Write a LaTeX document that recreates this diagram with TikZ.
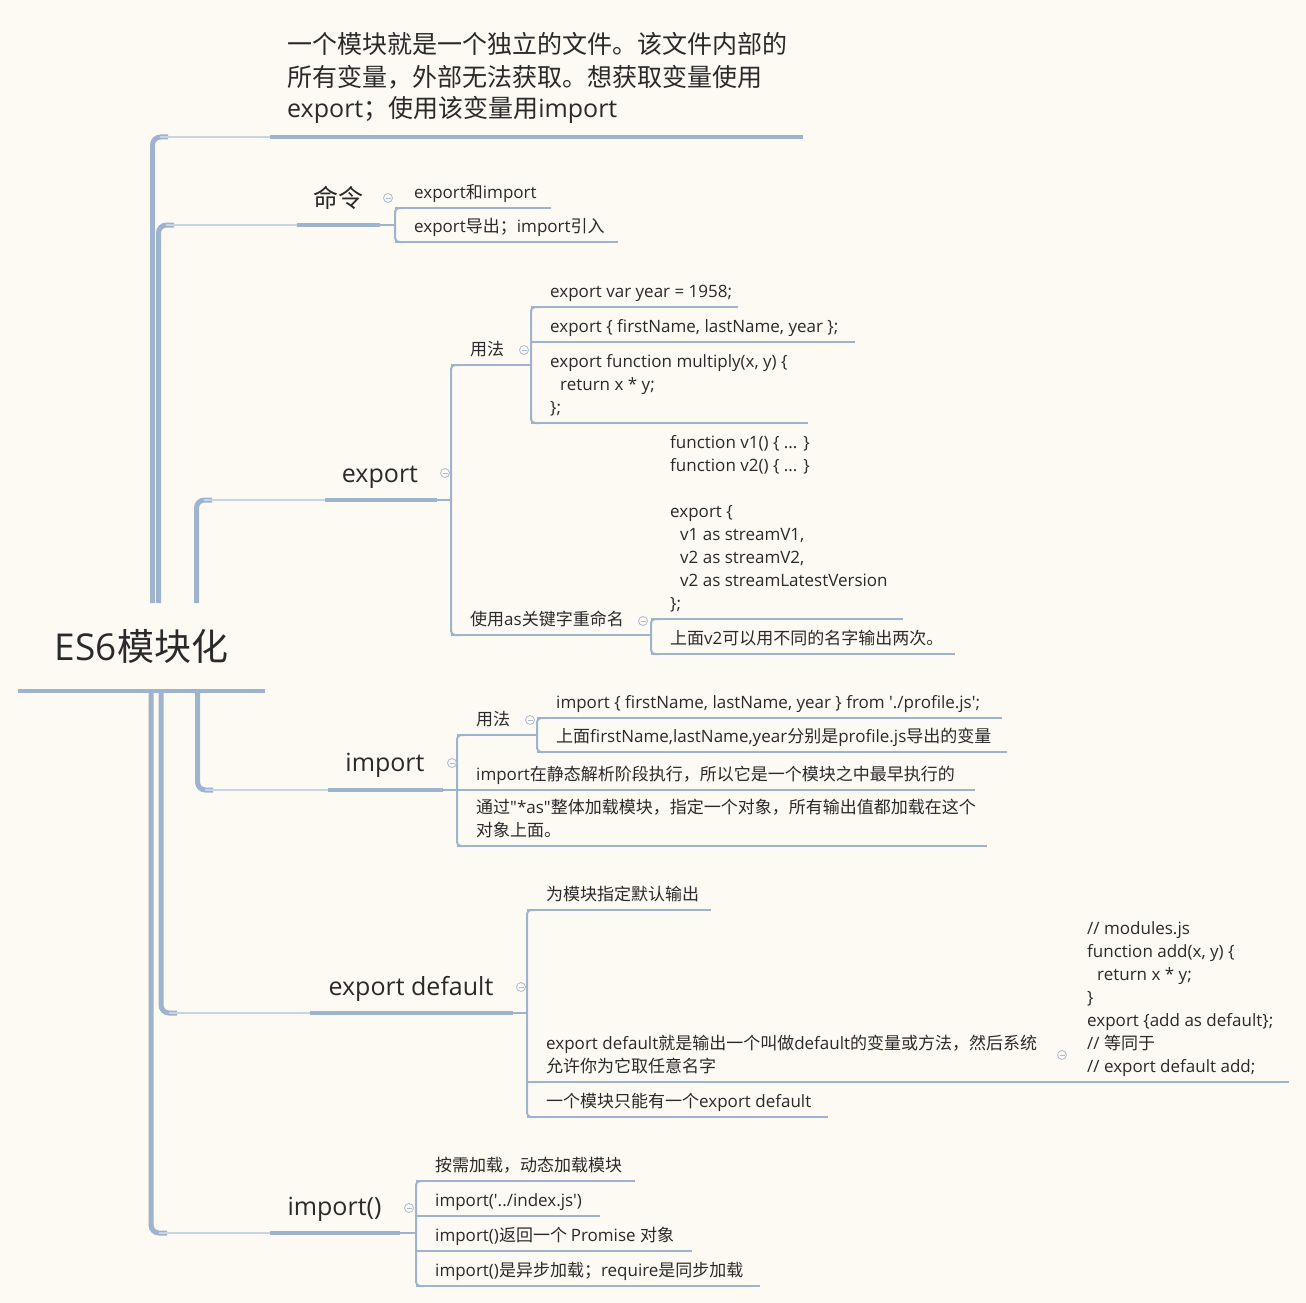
\documentclass[tikz,border=0pt]{standalone}
\usepackage{fontspec}
\setmainfont{Noto Sans CJK SC}
\newfontfamily\zhfont{Noto Sans CJK SC}
\newfontfamily\enfont{Open Sans}
\usetikzlibrary{calc}

%%% switch fonts between latin and chinese characters
\XeTeXinterchartokenstate=1
\newXeTeXintercharclass\enclass
\newXeTeXintercharclass\zhclass
\newcount\chr
\chr="21 \loop\XeTeXcharclass\chr=\enclass\advance\chr by 1 \ifnum\chr<"7F \repeat
\chr="3000 \loop\XeTeXcharclass\chr=\zhclass\advance\chr by 1 \ifnum\chr<"3040 \repeat
\chr="4E00 \loop\XeTeXcharclass\chr=\zhclass\advance\chr by 1 \ifnum\chr<"A000 \repeat
\chr="FF00 \loop\XeTeXcharclass\chr=\zhclass\advance\chr by 1 \ifnum\chr<"FFF0 \repeat
\XeTeXinterchartoks 0 \enclass = {\enfont}
\XeTeXinterchartoks 4095 \enclass = {\enfont}
\XeTeXinterchartoks \zhclass \enclass = {\enfont}
\XeTeXinterchartoks 0 \zhclass = {\zhfont}
\XeTeXinterchartoks 4095 \zhclass = {\zhfont}
\XeTeXinterchartoks \enclass \zhclass = {\zhfont}

\definecolor{paper}{HTML}{FDFAF3}
\definecolor{linec}{HTML}{9EB3CE}
\definecolor{twigc}{HTML}{C8D4E4}
\definecolor{ink}{HTML}{2A2A2A}
\definecolor{foldc}{HTML}{A9BBD6}

\tikzset{
  rootlabel/.style={font=\fontsize{37}{44}\selectfont, text=ink, inner sep=0pt, anchor=base},
  mainlabel/.style={font=\fontsize{25}{32}\selectfont, text=ink, inner sep=0pt, anchor=base},
  leaflabel/.style={font=\fontsize{17}{23}\selectfont, text=ink, inner sep=0pt, anchor=base west, align=left},
  barline/.style={draw=linec, line width=4pt},
  leafline/.style={draw=linec, line width=2pt},
  trunkline/.style={draw=linec, line width=5pt, rounded corners=8pt},
  twigline/.style={draw=twigc, line width=2.5pt},
  foldmark/.style={circle, draw=foldc, line width=0.8pt, minimum size=9pt, inner sep=0pt, fill=paper,
    path picture={\draw[foldc, line width=0.8pt] ([xshift=2pt]path picture bounding box.west) -- ([xshift=-2pt]path picture bounding box.east);}},
}

% name, x left, x right, y of underline, text (last line sits on the underline)
\newcommand\leafitem[5]{%
  \coordinate (#1-l) at (#2,#4);
  \coordinate (#1-r) at (#3,#4);
  \draw[leafline] (#1-l) -- (#1-r);
  \node[leaflabel] (#1) at ([xshift=19pt,yshift=10pt]#1-l) {#5};
}

\begin{document}
\begin{tikzpicture}[x=1pt,y=-1pt]
\fill[paper] (0,0) rectangle (1306,1303);
\useasboundingbox (0,0) rectangle (1306,1303);

%%%
% root and first level
%%%
\coordinate (introL) at (270,137); \coordinate (introR) at (803,137);
\coordinate (cmdL) at (297,225);   \coordinate (cmdR) at (380,225);
\coordinate (expL) at (325,500);   \coordinate (expR) at (437,500);
\coordinate (impL) at (328,790);   \coordinate (impR) at (443,790);
\coordinate (defL) at (310,1013);  \coordinate (defR) at (513,1013);
\coordinate (dynL) at (270,1233);  \coordinate (dynR) at (400,1233);

\draw[trunkline] (152.5,603) |- (168,137);
\draw[twigline] (160,137) -- (introL);
\draw[trunkline] (158.5,603) |- (174,225);
\draw[twigline] (166,225) -- (cmdL);
\draw[trunkline] (196.5,603) |- (212,500);
\draw[twigline] (204,500) -- (expL);
\draw[trunkline] (197.5,691) |- (213,790);
\draw[twigline] (205,790) -- (impL);
\draw[trunkline] (161,691) |- (177,1013);
\draw[twigline] (169,1013) -- (defL);
\draw[trunkline] (151,691) |- (167,1233);
\draw[twigline] (159,1233) -- (dynL);

\node[rootlabel] (root) at (141.5,660) {ES6模块化};
\draw[barline] (18,691) -- (265,691);

\node[mainlabel, anchor=base west, align=left] (intro) at (287,118)
  {一个模块就是一个独立的文件。该文件内部的\\所有变量，外部无法获取。想获取变量使用\\export；使用该变量用import};
\draw[barline] (introL) -- (introR);

\node[mainlabel] (cmd) at (338,207) {命令};
\draw[barline] (cmdL) -- (cmdR);
\node[mainlabel] (exp) at (380,482) {export};
\draw[barline] (expL) -- (expR);
\node[mainlabel] (imp) at (385,771) {import};
\draw[barline] (impL) -- (impR);
\node[mainlabel] (def) at (411,995) {export default};
\draw[barline] (defL) -- (defR);
\node[mainlabel] (dyn) at (334.5,1215) {import()};
\draw[barline] (dynL) -- (dynR);

%%%
% 命令
%%%
\leafitem{cmdA}{395}{551}{208}{export和import}
\leafitem{cmdB}{395}{618}{242}{export导出；import引入}
\draw[leafline] (cmdR) -- (cmdR -| cmdA-l);
\draw[leafline, rounded corners=4pt] ([xshift=8pt]cmdA-l) -- (cmdA-l) -- (cmdB-l) -- ([xshift=8pt]cmdB-l);

%%%
% export
%%%
\leafitem{usage}{451}{531}{365}{用法}
\leafitem{rename}{451}{651}{635}{使用as关键字重命名}
\draw[leafline] (expR) -- (expR -| usage-l);
\draw[leafline, rounded corners=4pt] ([xshift=8pt]usage-l) -- (usage-l) -- (rename-l) -- ([xshift=8pt]rename-l);

\leafitem{ev1}{531}{738}{307}{export var year = 1958;}
\leafitem{ev2}{531}{855}{342}{export \{ firstName, lastName, year \};}
\leafitem{ev3}{531}{808}{423}{export function multiply(x, y) \{\\\hspace*{10pt}return x * y;\\\};}
\draw[leafline, rounded corners=4pt] ([xshift=8pt]ev1-l) -- (ev1-l) -- (ev3-l) -- ([xshift=8pt]ev3-l);

\leafitem{rn1}{651}{903}{619}{function v1() \{ ... \}\\function v2() \{ ... \}\\[23pt]export \{\\\hspace*{10pt}v1 as streamV1,\\\hspace*{10pt}v2 as streamV2,\\\hspace*{10pt}v2 as streamLatestVersion\\\};}
\leafitem{rn2}{651}{955}{654}{上面v2可以用不同的名字输出两次。}
\draw[leafline, rounded corners=4pt] ([xshift=8pt]rn1-l) -- (rn1-l) -- (rn2-l) -- ([xshift=8pt]rn2-l);

%%%
% import
%%%
\leafitem{iusage}{457}{537}{735}{用法}
\leafitem{istatic}{457}{975}{790}{import在静态解析阶段执行，所以它是一个模块之中最早执行的}
\leafitem{istar}{457}{987}{846}{通过"*as"整体加载模块，指定一个对象，所有输出值都加载在这个\\对象上面。}
\draw[leafline] (impR) -- (impR -| iusage-l);
\draw[leafline, rounded corners=4pt] ([xshift=8pt]iusage-l) -- (iusage-l) -- (istar-l) -- ([xshift=8pt]istar-l);

\leafitem{iu1}{537}{1002}{718}{import \{ firstName, lastName, year \} from './profile.js';}
\leafitem{iu2}{537}{1007}{752}{上面firstName,lastName,year分别是profile.js导出的变量}
\draw[leafline, rounded corners=4pt] ([xshift=8pt]iu1-l) -- (iu1-l) -- (iu2-l) -- ([xshift=8pt]iu2-l);

%%%
% export default
%%%
\leafitem{dfa}{527}{711}{910}{为模块指定默认输出}
\leafitem{dfb}{527}{1050}{1082}{export default就是输出一个叫做default的变量或方法，然后系统\\允许你为它取任意名字}
\leafitem{dfc}{527}{828}{1117}{一个模块只能有一个export default}
\draw[leafline] (defR) -- (defR -| dfa-l);
\draw[leafline, rounded corners=4pt] ([xshift=8pt]dfa-l) -- (dfa-l) -- (dfc-l) -- ([xshift=8pt]dfc-l);

\leafitem{dfcode}{1068}{1289}{1082}{// modules.js\\function add(x, y) \{\\\hspace*{10pt}return x * y;\\\}\\export \{add as default\};\\// 等同于\\// export default add;}
\draw[leafline] (dfb-r) -- (dfcode-l);

%%%
% import()
%%%
\leafitem{dy1}{416}{635}{1181}{按需加载，动态加载模块}
\leafitem{dy2}{416}{600}{1216}{import('../index.js')}
\leafitem{dy3}{416}{692}{1251}{import()返回一个 Promise 对象}
\leafitem{dy4}{416}{760}{1286}{import()是异步加载；require是同步加载}
\draw[leafline] (dynR) -- (dynR -| dy1-l);
\draw[leafline, rounded corners=4pt] ([xshift=8pt]dy1-l) -- (dy1-l) -- (dy4-l) -- ([xshift=8pt]dy4-l);

%%%
% fold marks
%%%
\node[foldmark] (cmdF) at (388,198) {};
\node[foldmark] (expF) at (445,473) {};
\node[foldmark] (usageF) at (524,350) {};
\node[foldmark] (renameF) at (643,621) {};
\node[foldmark] (impF) at (452,763) {};
\node[foldmark] (iusageF) at (530,720) {};
\node[foldmark] (defF) at (521,987) {};
\node[foldmark] (dfbF) at (1062,1055) {};
\node[foldmark] (dynF) at (409,1208) {};
\end{tikzpicture}
\end{document}
